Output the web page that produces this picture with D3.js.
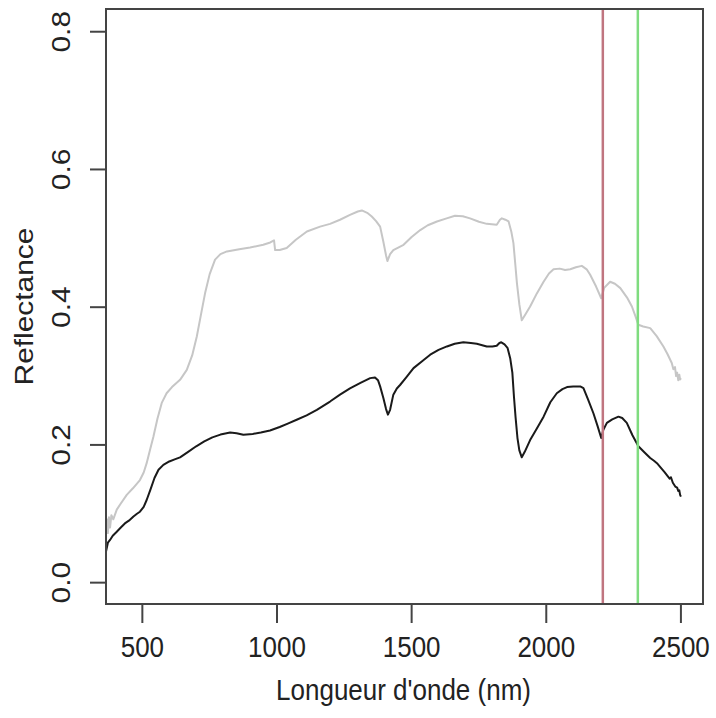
<!DOCTYPE html>
<html><head><meta charset="utf-8">
<script src="https://cdn.jsdelivr.net/npm/d3@7"></script>
<style>html,body{margin:0;padding:0;background:#fff;}</style>
</head><body>
<svg id="chart" width="716" height="718"></svg>
<script>
// Wavelengths (nm) and reflectance values
const blackWl = [365,372,380,390,405,420,435,450,467,480,491,505,516,530,545,560,578,600,620,640,670,700,730,760,790,826,850,875,910,940,974,1010,1040,1073,1110,1148,1197,1234,1271,1310,1346,1364,1375,1383,1395,1405,1412,1420,1432,1445,1457,1480,1507,1540,1569,1600,1631,1660,1692,1720,1742,1779,1800,1816,1826,1833,1845,1856,1866,1874,1880,1886,1893,1900,1909,1920,1940,1965,1990,2015,2039,2060,2077,2100,2126,2138,2155,2175,2190,2204,2212,2225,2245,2268,2282,2299,2320,2342,2365,2386,2400,2411,2425,2440,2450,2458,2463,2470,2479,2486,2490,2494,2497,2500];
const blackVal = [0.045,0.058,0.062,0.068,0.074,0.08,0.086,0.09,0.096,0.1,0.103,0.11,0.12,0.135,0.152,0.164,0.171,0.176,0.179,0.182,0.19,0.198,0.205,0.211,0.215,0.218,0.217,0.2147,0.216,0.218,0.221,0.226,0.231,0.2365,0.243,0.251,0.263,0.273,0.282,0.29,0.297,0.298,0.294,0.285,0.268,0.252,0.244,0.251,0.273,0.282,0.287,0.298,0.3115,0.322,0.331,0.338,0.343,0.347,0.349,0.348,0.347,0.343,0.343,0.344,0.348,0.349,0.346,0.341,0.326,0.305,0.27,0.24,0.21,0.192,0.182,0.19,0.207,0.224,0.241,0.262,0.275,0.281,0.284,0.285,0.285,0.2825,0.266,0.246,0.228,0.21,0.222,0.232,0.237,0.241,0.239,0.232,0.214,0.198,0.189,0.181,0.177,0.1735,0.167,0.16,0.155,0.151,0.153,0.145,0.1395,0.138,0.133,0.134,0.1275,0.125];

const grayWl = [365,368,372,376,380,385,392,405,420,442,465,491,505,516,530,541,556,572,590,610,640,665,685,702,718,733,750,770,790,814,860,900,949,975,989,993,1010,1036,1070,1111,1160,1197,1234,1271,1300,1315,1335,1352,1368,1383,1395,1405,1410,1420,1432,1470,1500,1532,1560,1594,1630,1661,1690,1717,1750,1779,1816,1828,1835,1848,1860,1870,1878,1885,1891,1900,1909,1920,1940,1965,1990,2010,2027,2050,2070,2089,2110,2132,2150,2163,2185,2204,2215,2237,2255,2275,2300,2318,2332,2342,2360,2386,2410,2435,2450,2466,2472,2478,2482,2486,2490,2494,2497,2500];
const grayVal = [0.075,0.092,0.072,0.095,0.08,0.098,0.092,0.106,0.115,0.1275,0.137,0.149,0.16,0.1735,0.195,0.212,0.238,0.261,0.275,0.284,0.2945,0.309,0.33,0.357,0.39,0.4205,0.448,0.469,0.477,0.481,0.484,0.4867,0.4906,0.494,0.497,0.483,0.483,0.486,0.498,0.51,0.517,0.521,0.527,0.534,0.539,0.5405,0.537,0.5317,0.525,0.517,0.495,0.475,0.467,0.477,0.483,0.4906,0.502,0.512,0.519,0.5245,0.529,0.5327,0.532,0.529,0.524,0.521,0.5197,0.527,0.529,0.527,0.5245,0.51,0.493,0.462,0.435,0.404,0.381,0.388,0.401,0.42,0.437,0.449,0.455,0.456,0.454,0.455,0.458,0.46,0.455,0.447,0.43,0.413,0.428,0.437,0.434,0.4277,0.414,0.401,0.386,0.3744,0.372,0.3696,0.358,0.343,0.332,0.319,0.31,0.313,0.3,0.305,0.294,0.302,0.295,0.297];

const xTicks = [500,1000,1500,2000,2500];
const yTicks = [0.0,0.2,0.4,0.6,0.8];
const yTickLabels = ["0.0","0.2","0.4","0.6","0.8"];
const vLines = [2210, 2340];
const vLineColors = ["#c07580", "#7fdc7f"];
const xTitle = "Longueur d'onde (nm)";
const yTitle = "Reflectance";

const L = 106, R = 703, T = 9, B = 604;
const x = d3.scaleLinear().domain([365, 2582]).range([L, R]);
const y = d3.scaleLinear().domain([-0.031, 0.833]).range([B, T]);
const svg = d3.select("#chart");
const FS = 26, SY = 1.15, txt = "#222";
const font = "'Liberation Sans', Arial, Helvetica, sans-serif";

svg.append("defs").append("clipPath").attr("id","clip")
  .append("rect").attr("x",L).attr("y",T).attr("width",R-L).attr("height",B-T);

const line = d3.line().x(d=>x(d[0])).y(d=>y(d[1]));
const plot = svg.append("g").attr("clip-path","url(#clip)");
plot.append("path").datum(grayWl.map((w,i)=>[w,grayVal[i]]))
  .attr("d",line).attr("fill","none").attr("stroke","#c6c6c6").attr("stroke-width",2).attr("stroke-linejoin","round");
plot.append("path").datum(blackWl.map((w,i)=>[w,blackVal[i]]))
  .attr("d",line).attr("fill","none").attr("stroke","#1a1a1a").attr("stroke-width",2).attr("stroke-linejoin","round");
plot.selectAll("line.v").data(vLines).enter().append("line")
  .attr("x1",d=>x(d)).attr("x2",d=>x(d)).attr("y1",T).attr("y2",B)
  .attr("stroke",(d,i)=>vLineColors[i]).attr("stroke-width",2.5);

// box
svg.append("rect").attr("x",L).attr("y",T).attr("width",R-L).attr("height",B-T)
  .attr("fill","none").attr("stroke","#444").attr("stroke-width",2);

// x axis
const xa = svg.append("g");
xa.selectAll("line").data(xTicks).enter().append("line")
  .attr("x1",d=>x(d)).attr("x2",d=>x(d)).attr("y1",B).attr("y2",B+19)
  .attr("stroke","#444").attr("stroke-width",2);
xa.selectAll("text").data(xTicks).enter().append("text")
  .attr("transform",d=>`translate(${x(d)},657) scale(1,${SY})`)
  .attr("text-anchor","middle").attr("font-family",font).attr("font-size",FS).attr("fill",txt)
  .text(d=>d);

// y axis
const ya = svg.append("g");
ya.selectAll("line").data(yTicks).enter().append("line")
  .attr("x1",L-16).attr("x2",L).attr("y1",d=>y(d)).attr("y2",d=>y(d))
  .attr("stroke","#444").attr("stroke-width",2);
ya.selectAll("text").data(yTicks).enter().append("text")
  .attr("transform",d=>`translate(70,${y(d)}) scale(1,${SY}) rotate(-90)`)
  .attr("text-anchor","middle").attr("font-family",font).attr("font-size",FS).attr("fill",txt)
  .text((d,i)=>yTickLabels[i]);

// titles
svg.append("text").attr("transform",`translate(${(L+R)/2 - 1},700) scale(1,${SY})`)
  .attr("text-anchor","middle").attr("font-family",font).attr("font-size",FS).attr("fill",txt)
  .text(xTitle);
svg.append("text").attr("transform",`translate(33,${(T+B)/2}) scale(1,${SY}) rotate(-90)`)
  .attr("text-anchor","middle").attr("font-family",font).attr("font-size",FS).attr("fill",txt)
  .text(yTitle);
</script>
</body></html>
